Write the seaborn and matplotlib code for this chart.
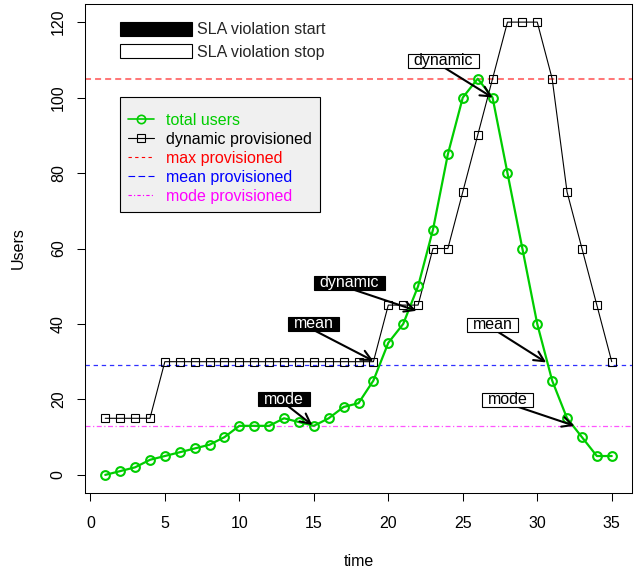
import numpy as np
import pandas as pd
import matplotlib.pyplot as plt
import seaborn as sns
from matplotlib.lines import Line2D
from matplotlib.patches import Patch
from matplotlib.path import Path

# data
time = list(range(1, 36))
total_users = [0, 1, 2, 4, 5, 6, 7, 8, 10, 13, 13, 13, 15, 14, 13, 15, 18, 19,
               25, 35, 40, 50, 65, 85, 100, 105, 100, 80, 60, 40, 25, 15, 10, 5, 5]
dynamic_provisioned = [15, 15, 15, 15, 30, 30, 30, 30, 30, 30, 30, 30, 30, 30, 30,
                       30, 30, 30, 30, 45, 45, 45, 60, 60, 75, 90, 105, 120, 120,
                       120, 105, 75, 60, 45, 30]
max_provisioned = 105
mean_provisioned = 29.17
mode_provisioned = 13

# SLA violation markers: label, label position, arrow origin, arrow target
start_labels = ['dynamic', 'mean', 'mode']
start_text_xy = [(17.4, 50.9), (15.0, 40.0), (13.0, 20.0)]
start_from_xy = [(16.3, 50.9), (14.2, 40.0), (12.7, 20.0)]
start_to_xy = [(21.9, 43.5), (19.0, 30.2), (14.9, 13.2)]
stop_labels = ['dynamic', 'mean', 'mode']
stop_text_xy = [(23.7, 109.8), (27.0, 39.8), (28.0, 19.9)]
stop_from_xy = [(23.0, 109.8), (26.6, 39.8), (27.3, 19.9)]
stop_to_xy = [(27.0, 100.0), (30.6, 29.8), (32.5, 13.0)]

GREEN = '#00CD00'

sns.set_theme(style='white')
plt.rcParams['font.family'] = ['Liberation Sans', 'DejaVu Sans']
FS = 11.5

df = pd.DataFrame({'time': time, 'total': total_users, 'dynamic': dynamic_provisioned})

fig, ax = plt.subplots(figsize=(6.42, 5.74), dpi=100)
fig.subplots_adjust(left=85 / 642, right=632 / 642, bottom=1 - 493 / 574, top=1 - 4 / 574)

ax.axhline(max_provisioned, color='#FF7878', lw=1.45, dashes=(3, 2), zorder=1)
ax.axhline(mean_provisioned, color='#3030FF', lw=0.9, dashes=(3.5, 3), zorder=1)
ax.axhline(mode_provisioned, color='#FF55FF', lw=0.9, dashes=(4, 2, 1, 2), zorder=1)

sns.lineplot(data=df, x='time', y='dynamic', ax=ax, color='black', lw=0.8,
             marker='s', markersize=5.5, markerfacecolor='none',
             markeredgecolor='black', markeredgewidth=0.8, zorder=3)
sns.lineplot(data=df, x='time', y='total', ax=ax, color=GREEN, lw=1.6,
             marker='o', markersize=6.3, markerfacecolor='none',
             markeredgecolor=GREEN, markeredgewidth=1.5, zorder=4)


def tight_box(x0, y0, width, height, mutation_size):
    # wide horizontal padding, slightly trimmed vertically like R's rect()
    px = 0.35 * mutation_size
    py = -0.03 * mutation_size
    x0, y0 = x0 - px, y0 - py
    x1, y1 = x0 + width + 2 * px, y0 + height + 2 * py
    return Path([(x0, y0), (x1, y0), (x1, y1), (x0, y1), (x0, y0)], closed=True)


def add_marker(label, text_xy, from_xy, to_xy, filled):
    ax.annotate('', xy=to_xy, xytext=from_xy, zorder=5,
                arrowprops=dict(arrowstyle='->,head_length=0.6,head_width=0.3',
                                color='black', lw=1.5, shrinkA=0, shrinkB=0))
    ax.text(*text_xy, label, ha='center', va='center', fontsize=FS, zorder=6,
            color='white' if filled else 'black',
            bbox=dict(boxstyle=tight_box, fc='black' if filled else 'white',
                      ec='black', lw=0.8))


for lab, t, f, e in zip(start_labels, start_text_xy, start_from_xy, start_to_xy):
    add_marker(lab, t, f, e, True)
for lab, t, f, e in zip(stop_labels, stop_text_xy, stop_from_xy, stop_to_xy):
    add_marker(lab, t, f, e, False)

ax.set_xlim(-0.36, 36.36)
ax.set_ylim(-4.8, 124.8)
ax.set_xticks(range(0, 36, 5))
ax.set_yticks(range(0, 121, 20))
ax.tick_params(axis='both', which='major', direction='out', length=5.8, width=0.75,
               color='black', labelsize=FS, labelcolor='black', left=True, bottom=True)
ax.tick_params(axis='x', pad=11)
ax.tick_params(axis='y', pad=8)
for lab in ax.get_yticklabels():
    lab.set_rotation(90)
    lab.set_va('center')
for sp in ax.spines.values():
    sp.set_color('black')
    sp.set_linewidth(0.75)

ax.set_xlabel('time', fontsize=FS, color='black')
ax.set_ylabel('Users', fontsize=FS, color='black')
ax.xaxis.set_label_coords(0.5, (493 - 561) / 489)
ax.yaxis.set_label_coords((18 - 85) / 547, 0.5)
ax.xaxis.label.set_va('center')
ax.yaxis.label.set_va('center')

# legend for the SLA markers (no frame)
sla_handles = [Patch(facecolor='black', edgecolor='black', lw=0.8),
               Patch(facecolor='white', edgecolor='black', lw=0.8)]
leg1 = ax.legend(sla_handles, ['SLA violation start', 'SLA violation stop'],
                 loc='upper left', bbox_to_anchor=((120 - 85) / 547, 1 - (22 - 4) / 489),
                 frameon=False, fontsize=FS, handlelength=4.5, handleheight=0.95,
                 handletextpad=0.35, labelspacing=0.43, borderpad=0, borderaxespad=0)
ax.add_artist(leg1)

# legend for the series
series_handles = [
    Line2D([], [], color=GREEN, lw=1.2, marker='o', ms=6, mfc='none', mec=GREEN, mew=1.2),
    Line2D([], [], color='black', lw=0.8, marker='s', ms=5.5, mfc='none', mec='black', mew=0.8),
    Line2D([], [], color='red', lw=0.8, dashes=(3, 3)),
    Line2D([], [], color='blue', lw=0.8, dashes=(6, 3)),
    Line2D([], [], color='magenta', lw=0.8, dashes=(3, 2, 1, 2)),
]
series_labels = ['total users', 'dynamic provisioned', 'max provisioned',
                 'mean provisioned', 'mode provisioned']
leg2 = ax.legend(series_handles, series_labels, loc='upper left',
                 bbox_to_anchor=((120 - 85) / 547, 1 - (97 - 4) / 489),
                 fontsize=FS, labelcolor=[GREEN, 'black', 'red', 'blue', 'magenta'],
                 title=' ', title_fontsize=2,
                 numpoints=1, handlelength=1.6, handletextpad=0.8, labelspacing=0.25,
                 borderpad=0.5, borderaxespad=0, fancybox=False, framealpha=1,
                 facecolor='#F0F0F0', edgecolor='black')
leg2.get_frame().set_linewidth(0.8)

plt.savefig('out.png', dpi=100)
plt.close()
